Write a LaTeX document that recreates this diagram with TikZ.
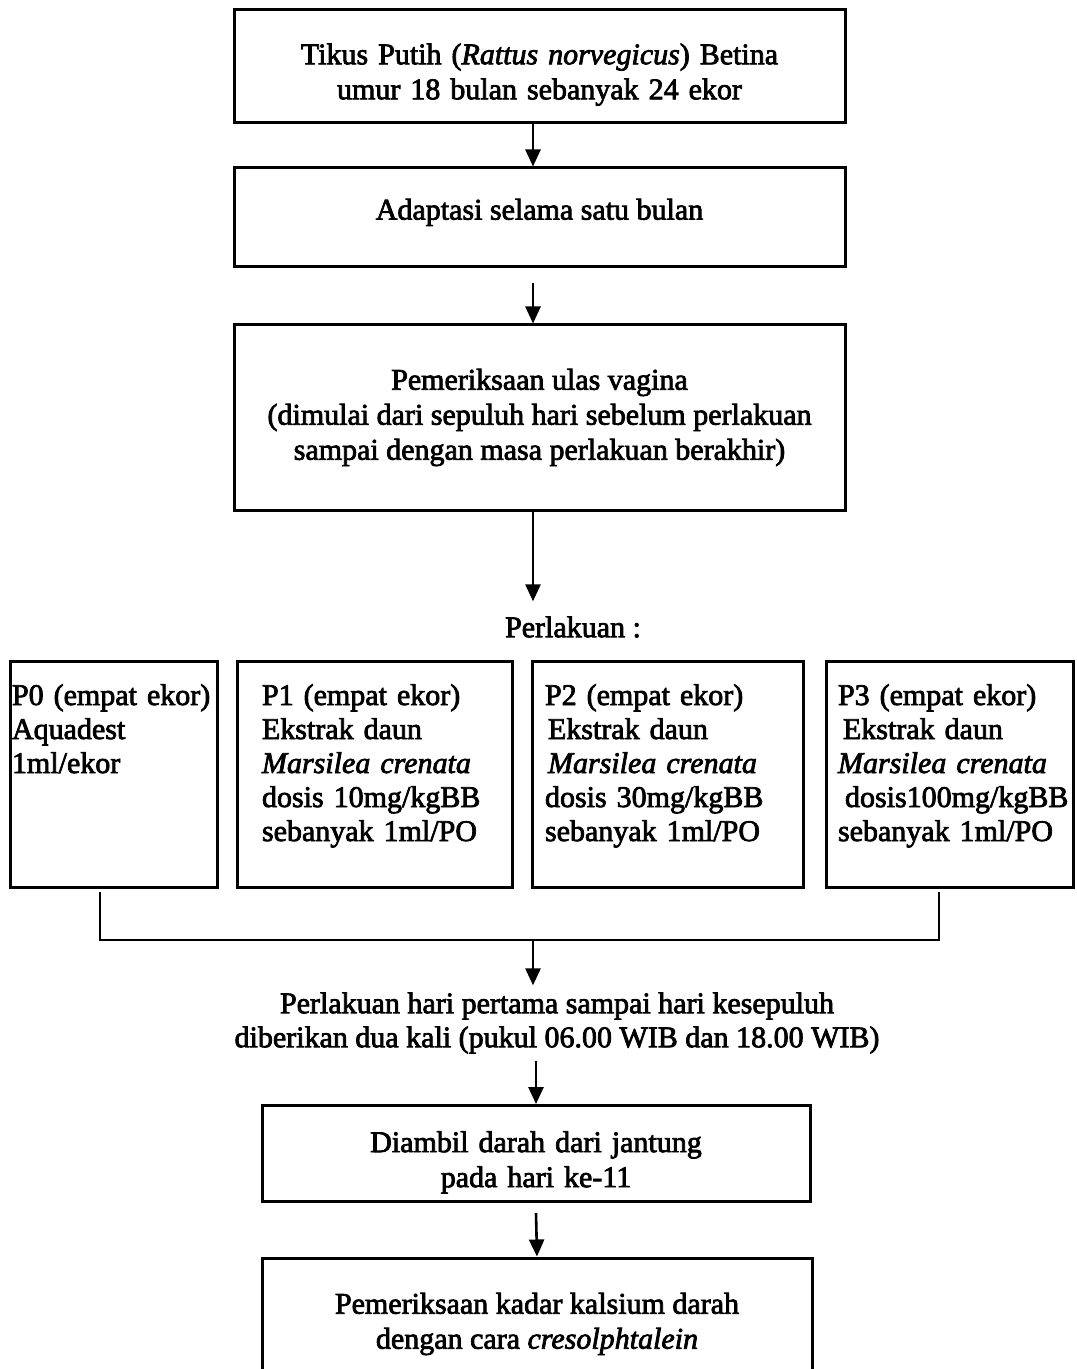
\documentclass[tikz,border=0pt]{standalone}
\usepackage{fontspec}
\setmainfont{Liberation Serif}[FakeBold=2.5]
\usetikzlibrary{positioning,arrows.meta}
\tikzset{
  stepbox/.style={draw, line width=1.5pt, align=center, inner sep=4pt, font=\fontsize{15pt}{17.5pt}\selectfont},
  groupbox/.style={draw, line width=1.5pt, outer sep=0pt, anchor=north west, align=left, inner ysep=11pt, text height=11pt, text depth=80pt, minimum height=113pt, font=\fontsize{15pt}{17pt}\selectfont},
  textlabel/.style={align=center, font=\fontsize{15pt}{17pt}\selectfont},
  flow/.style={-{Triangle[length=8.5pt,width=7.5pt]}, line width=1.3pt},
  link/.style={line width=1.4pt}
}

\begin{document}
\begin{tikzpicture}[x=0.5pt, y=-0.5pt]
\useasboundingbox (0,0) rectangle (1076,1369);
% main column
\node[stepbox, text width=297.5pt, text height=18.5pt, minimum width=305.5pt, minimum height=56.5pt] (tikus) at (539.5,66.5) {Tikus Putih (\textit{Rattus norvegicus}) Betina\\umur 18 bulan sebanyak 24 ekor};
\node[stepbox, text depth=8.3pt, minimum width=305.5pt, minimum height=49.5pt] (adapt) at (539.5,217.5) {Adaptasi selama satu bulan};
\node[stepbox, minimum width=305.5pt, minimum height=92.5pt] (ulas) at (539.5,417.5) {Pemeriksaan ulas vagina\\(dimulai dari sepuluh hari sebelum perlakuan\\sampai dengan masa perlakuan berakhir)};
\node[textlabel] (perl) at (573,627) {Perlakuan :};
% treatment groups
\node[groupbox, inner xsep=1pt, text width=101.5pt] (p0) at (10,661) {P0 (empat ekor)\\Aquadest\\1ml/ekor};
\node[groupbox, inner xsep=12.5pt, text width=112.5pt, right=10pt of p0] (p1) {P1 (empat ekor)\\Ekstrak daun\\\textit{Marsilea crenata}\\dosis~10mg/kgBB\\sebanyak~1ml/PO};
\node[groupbox, inner xsep=6.5pt, text width=122.5pt, right=10pt of p1] (p2) {P2 (empat ekor)\\\hspace*{1.5pt}Ekstrak daun\\\hspace*{1.5pt}\textit{Marsilea crenata}\\dosis~30mg/kgBB\\sebanyak~1ml/PO};
\node[groupbox, inner xsep=6pt, text width=111.5pt, right=11.5pt of p2] (p3) {P3 (empat ekor)\\\hspace*{2.5pt}Ekstrak daun\\\textit{Marsilea crenata}\\\hspace*{3.5pt}\mbox{dosis100mg/kgBB}\\sebanyak~1ml/PO};
\coordinate (j0) at (100,892);
\coordinate (j3) at (939,892);
\coordinate (jm) at (533,940);
% after treatment
\node[textlabel] (hari) at (557,1023) {Perlakuan hari pertama sampai hari kesepuluh\\diberikan dua kali (pukul 06.00 WIB dan 18.00 WIB)};
\node[stepbox, text width=266pt, text height=19.3pt, minimum width=274pt, minimum height=46.5pt] (darah) at (536,1153.5) {Diambil darah dari jantung\\pada hari ke-11};
\node[stepbox, minimum width=275pt, minimum height=66pt] (kalsium) at (537,1324) {Pemeriksaan kadar kalsium darah\\dengan cara \textit{cresolphtalein}};
% connectors
\draw[flow] ([xshift=-3.25pt]tikus.south) -- ([xshift=-3.25pt]adapt.north);
\draw[flow] ([xshift=-3.25pt,yshift=-7.5pt]adapt.south) -- ([xshift=-3.25pt]ulas.north);
\draw[flow, shorten >=4pt] ([xshift=-3.25pt]ulas.south) -- ([xshift=-3.25pt]ulas.south |- perl.north);
\draw[link] (j0) |- (jm) -| (j3);
\draw[flow] (jm) -- (jm |- hari.north);
\draw[flow] (darah.north |- hari.south) -- (darah.north);
\draw[flow] ([yshift=-5pt]darah.south) -- (kalsium.north);
\end{tikzpicture}
\end{document}
